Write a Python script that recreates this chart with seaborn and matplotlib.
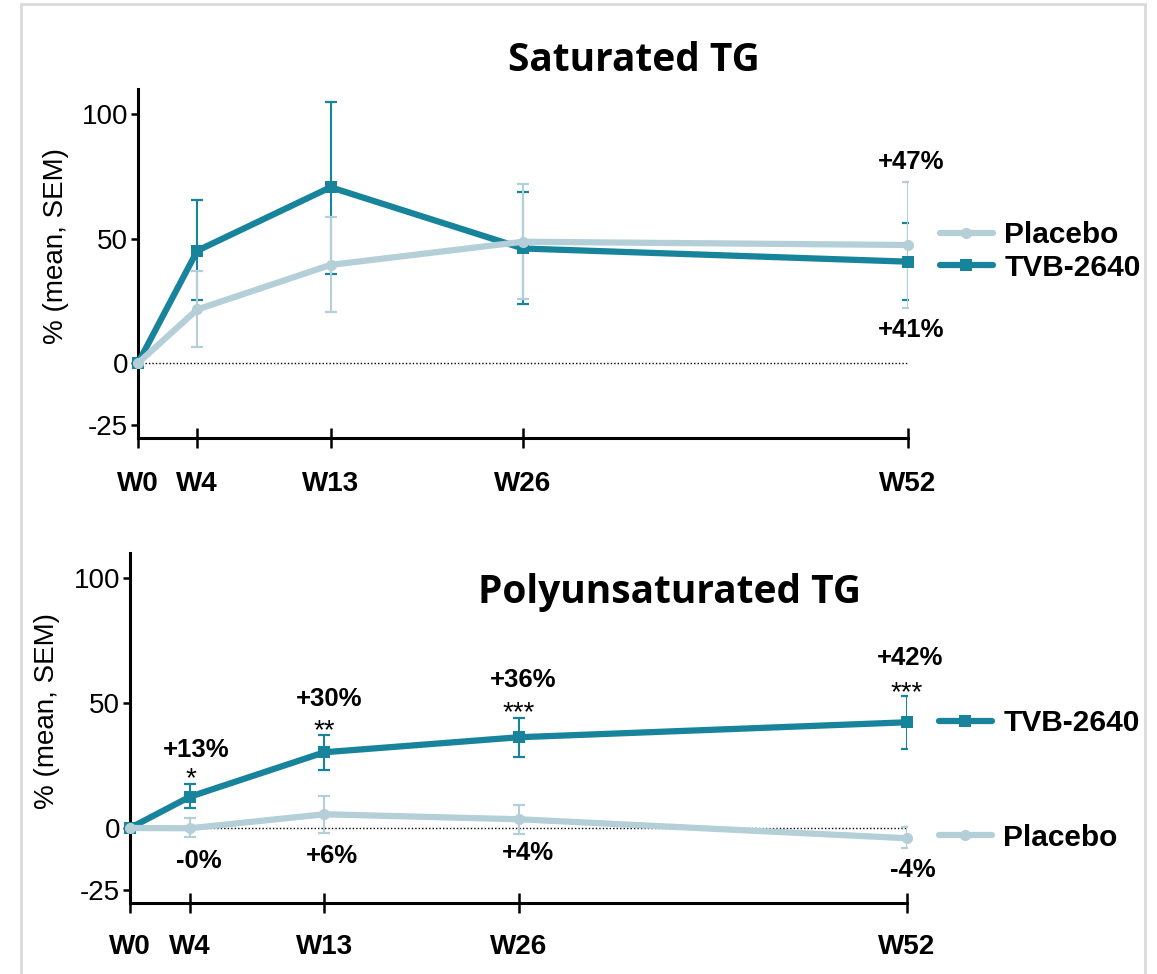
import numpy as np
import pandas as pd
import matplotlib
matplotlib.use('Agg')
import matplotlib.pyplot as plt
from matplotlib.lines import Line2D
from matplotlib.patches import Rectangle
import seaborn as sns

# ---- data ----
weeks = [0, 4, 13, 26, 52]
week_labels = ['W0', 'W4', 'W13', 'W26', 'W52']

# Saturated TG (% change, mean and SEM bounds)
sat_placebo = [0, 21.5, 39.4, 48.7, 47.4]
sat_placebo_lo = [0, 6.3, 20.4, 25.7, 22.0]
sat_placebo_hi = [0, 37.0, 58.5, 71.8, 72.6]
sat_tvb = [0, 45.1, 70.6, 46.0, 40.7]
sat_tvb_lo = [0, 25.3, 35.7, 23.6, 25.3]
sat_tvb_hi = [0, 65.5, 104.8, 68.8, 56.3]

# Polyunsaturated TG
poly_placebo = [0, -0.1, 5.5, 3.5, -4.1]
poly_placebo_lo = [0, -3.7, -1.9, -2.4, -8.0]
poly_placebo_hi = [0, 3.9, 12.9, 9.2, 0.4]
poly_tvb = [0, 12.5, 30.3, 36.3, 42.3]
poly_tvb_lo = [0, 7.9, 23.2, 28.5, 31.6]
poly_tvb_hi = [0, 17.6, 37.2, 44.0, 52.8]

# annotations
sat_pct_text = ['+47%', '+41%']
sat_pct_x = [52.2, 52.2]
sat_pct_y = [78.0, 10.4]

poly_pct_text = ['+13%', '+30%', '+36%', '+42%', '-0%', '+6%', '+4%', '-4%']
poly_pct_x = [4.4, 13.3, 26.3, 52.2, 4.6, 13.5, 26.6, 52.4]
poly_pct_y = [28.4, 48.8, 56.4, 65.2, -16.0, -14.0, -12.8, -19.6]
poly_star_text = ['*', '**', '***', '***']
poly_star_x = [4.1, 13.0, 26.0, 52.0]
poly_star_y = [16.8, 36.0, 43.2, 51.2]

groups = ['TVB-2640', 'Placebo']
palette = {'TVB-2640': '#17849b', 'Placebo': '#b4cfd7'}
markers = {'TVB-2640': 's', 'Placebo': 'o'}

sns.set_style('ticks')
plt.rcParams['font.family'] = ['Liberation Sans', 'DejaVu Sans']
plt.rcParams['axes.unicode_minus'] = False
plt.rcParams['text.color'] = 'black'
plt.rcParams['axes.labelcolor'] = 'black'
plt.rcParams['xtick.color'] = 'black'
plt.rcParams['ytick.color'] = 'black'

fig = plt.figure(figsize=(11.57, 9.74), dpi=100)
ax_top = fig.add_axes([0.1193, 0.5506, 0.6655, 0.3579])
ax_bot = fig.add_axes([0.1124, 0.0729, 0.6716, 0.3593])


def draw_panel(ax, placebo, p_lo, p_hi, tvb, t_lo, t_hi, xpad):
    df = pd.DataFrame({
        'week': weeks + weeks,
        'value': tvb + placebo,
        'group': ['TVB-2640'] * len(weeks) + ['Placebo'] * len(weeks),
    })
    # error bars (skip baseline W0)
    for vals, lo, hi, g in [(tvb, t_lo, t_hi, 'TVB-2640'), (placebo, p_lo, p_hi, 'Placebo')]:
        v = np.array(vals[1:])
        yerr = [v - np.array(lo[1:]), np.array(hi[1:]) - v]
        ax.errorbar(weeks[1:], v, yerr=yerr, fmt='none', ecolor=palette[g],
                    elinewidth=1.5, capsize=4.2, capthick=1.6, zorder=2)
    sns.lineplot(data=df, x='week', y='value', hue='group', style='group',
                 hue_order=groups, style_order=groups, palette=palette,
                 markers=markers, dashes=False, linewidth=4.5, markersize=8,
                 markeredgewidth=0, legend=False, ax=ax, clip_on=False, zorder=3)
    ax.axhline(0, color='black', lw=1, ls=(0, (1, 1.5)), zorder=1)
    ax.set_xlim(0, 52)
    ax.set_ylim(-30, 110)
    ax.set_xticks(weeks, week_labels, fontweight='bold', fontsize=20)
    ax.set_yticks([-25, 0, 50, 100])
    ax.tick_params(axis='x', direction='inout', length=14.5, width=1.8, pad=xpad, colors='black')
    ax.tick_params(axis='y', direction='out', length=5, width=1.8, pad=2, labelsize=20, colors='black')
    for s in ['top', 'right']:
        ax.spines[s].set_visible(False)
    for s in ['left', 'bottom']:
        ax.spines[s].set_linewidth(2.2)
        ax.spines[s].set_color('black')
    ax.set_xlabel('')
    ax.set_ylabel('% (mean, SEM)', fontsize=20)
    ax.yaxis.set_label_coords(-0.09, 0.55)


def handle(g):
    return Line2D([], [], color=palette[g], lw=4.5, marker=markers[g], markersize=8,
                  markeredgewidth=0)


leg_kw = dict(loc='center left', frameon=False, prop=dict(weight='bold', size=21.5),
              handlelength=1.78, handletextpad=0.38, borderaxespad=1.06, borderpad=0,
              labelspacing=0.15)

draw_panel(ax_top, sat_placebo, sat_placebo_lo, sat_placebo_hi,
           sat_tvb, sat_tvb_lo, sat_tvb_hi, xpad=17)
ax_top.legend([handle('Placebo'), handle('TVB-2640')], ['Placebo', 'TVB-2640'],
              bbox_to_anchor=(1, 0.534), **leg_kw)
for t, x, y in zip(sat_pct_text, sat_pct_x, sat_pct_y):
    ax_top.text(x, y, t, ha='center', va='baseline', fontsize=18.5, fontweight='bold')

draw_panel(ax_bot, poly_placebo, poly_placebo_lo, poly_placebo_hi,
           poly_tvb, poly_tvb_lo, poly_tvb_hi, xpad=15)
leg1 = ax_bot.legend([handle('TVB-2640')], ['TVB-2640'], bbox_to_anchor=(1, 0.514), **leg_kw)
ax_bot.add_artist(leg1)
ax_bot.legend([handle('Placebo')], ['Placebo'], bbox_to_anchor=(1, 0.186), **leg_kw)
for t, x, y in zip(poly_pct_text, poly_pct_x, poly_pct_y):
    ax_bot.text(x, y, t, ha='center', va='baseline', fontsize=18.5, fontweight='bold')
for t, x, y in zip(poly_star_text, poly_star_x, poly_star_y):
    ax_bot.text(x, y, t, ha='center', va='baseline', fontsize=20)

# panel titles
fig.text(634 / 1157, 1 - 71 / 974, 'Saturated TG', ha='center', va='baseline',
         fontsize=28, fontweight='bold', family=['Open Sans', 'DejaVu Sans'])
fig.text(670 / 1157, 1 - 603 / 974, 'Polyunsaturated TG', ha='center', va='baseline',
         fontsize=28, fontweight='bold', family=['Open Sans', 'DejaVu Sans'])

# light grey frame of the screenshot
fig.patches.append(Rectangle((21 / 1157, -0.1), (1145 - 21) / 1157, 1.1 - 4 / 974,
                             transform=fig.transFigure, fill=False,
                             edgecolor='#dadada', lw=2, zorder=0))

fig.savefig('out.png', dpi=100)
